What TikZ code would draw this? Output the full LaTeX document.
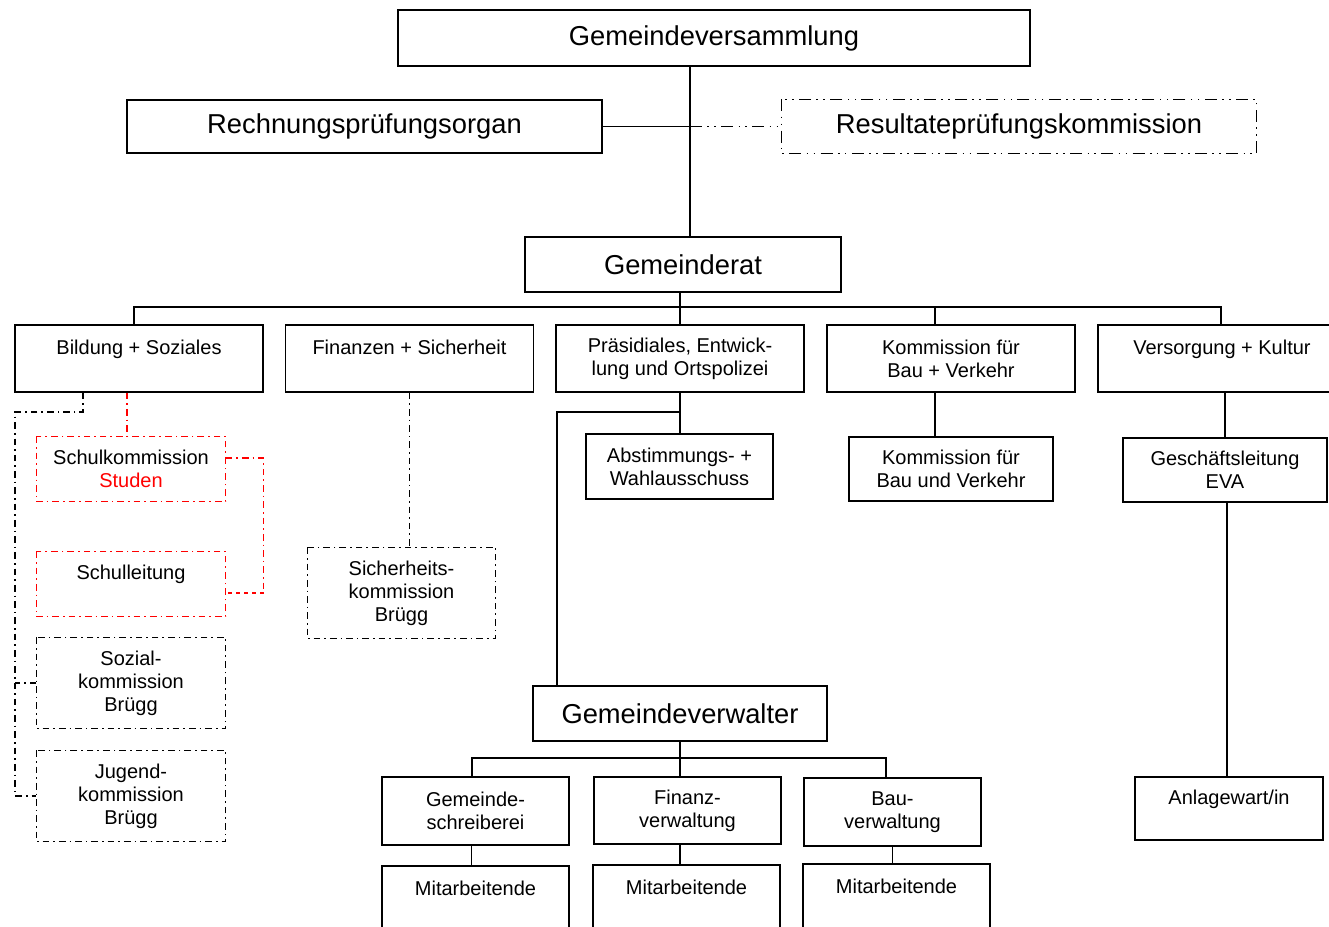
\documentclass[tikz,border=0pt]{standalone}
\usepackage{fontspec}
\setmainfont{Liberation Sans}
\usetikzlibrary{calc}

\tikzset{
    box/.style={draw, line width=1pt, inner sep=0pt, align=center, font=\fontsize{15}{17.25}\selectfont},
    bigbox/.style={box, font=\fontsize{20.5}{24}\selectfont},
    dd/.style={line width=1.1pt, dash pattern=on 5pt off 3pt on 1.2pt off 3pt},
    ddd/.style={line width=1.1pt, dash pattern=on 9pt off 4pt on 1.2pt off 4pt on 1.2pt off 4pt},
    rdd/.style={dd, red},
    conn/.style={line width=1pt}
}

\begin{document}
\begin{tikzpicture}[x=0.75pt, y=-0.75pt]

    \useasboundingbox (0,0) rectangle (1329,927);
    \clip (0,0) rectangle (1329,927);

    % oberste Ebene
    \node[bigbox, minimum width=474pt, minimum height=42pt] (gv) at (714,38) {Gemeindeversammlung};
    \node[bigbox, minimum width=356.25pt, minimum height=39.75pt] (rpo) at (364.5,126.5) {Rechnungsprüfungsorgan};
    \node[bigbox, draw=none, minimum width=355.5pt, minimum height=39.75pt] (rpk) at (1019,126.5) {Resultateprüfungskommission};
    \draw[ddd] (rpk.north west) rectangle (rpk.south east);
    \node[bigbox, minimum width=237pt, minimum height=41.25pt] (gr) at (683,264.5) {Gemeinderat};

    % Departemente
    \node[box, minimum width=186pt, minimum height=50.25pt] (bil) at (139,358.5) {Bildung + Soziales\\\mbox{}};
    \node[box, minimum width=186pt, minimum height=50.25pt] (fin) at (409.5,358.5) {Finanzen + Sicherheit\\\mbox{}};
    \node[box, minimum width=186pt, minimum height=50.25pt] (praes) at (680,358.5) {Präsidiales, Entwick-\\lung und Ortspolizei};
    \node[box, minimum width=186pt, minimum height=50.25pt] (kbv) at (951,358.5) {Kommission für\\Bau + Verkehr};
    \node[box, minimum width=186pt, minimum height=50.25pt] (vk) at (1222,358.5) {Versorgung + Kultur\\\mbox{}};

    % Kommissionen
    \node[box, draw=none, minimum width=141pt, minimum height=48pt] (skom) at (131,469) {Schulkommission\\\textcolor{red}{Studen}};
    \draw[rdd] (skom.north west) rectangle (skom.south east);
    \node[box, draw=none, minimum width=141pt, minimum height=48pt] (sl) at (131,584) {Schulleitung\\\mbox{}};
    \draw[rdd] (sl.north west) rectangle (sl.south east);
    \node[box, draw=none, minimum width=141pt, minimum height=67.5pt] (soz) at (131,683) {Sozial-\\kommission\\Brügg};
    \draw[dd] (soz.north west) rectangle (soz.south east);
    \node[box, draw=none, minimum width=141pt, minimum height=67.5pt] (jug) at (131,796) {Jugend-\\kommission\\Brügg};
    \draw[dd] (jug.north west) rectangle (jug.south east);
    \node[box, draw=none, minimum width=140.25pt, minimum height=67.5pt] (sik) at (401.5,593) {Sicherheits-\\kommission\\Brügg};
    \draw[dd] (sik.north west) rectangle (sik.south east);
    \node[box, minimum width=140.25pt, minimum height=48.75pt] (abw) at (679.5,466.5) {Abstimmungs- +\\Wahlausschuss};
    \node[box, minimum width=153pt, minimum height=48pt] (kbu) at (951,469) {Kommission für\\Bau und Verkehr};
    \node[box, minimum width=153pt, minimum height=48pt] (gl) at (1225,470) {Geschäftsleitung\\EVA};
    \node[box, minimum width=141pt, minimum height=47.25pt] (aw) at (1229,808.5) {Anlagewart/in\\\mbox{}};

    % Verwaltung
    \node[bigbox, minimum width=220.5pt, minimum height=41.25pt] (gvw) at (680,713.5) {Gemeindeverwalter};
    \node[box, minimum width=140.25pt, minimum height=51pt] (gs) at (475.5,811) {Gemeinde-\\schreiberei};
    \node[box, minimum width=140.25pt, minimum height=50.25pt] (fv) at (687.5,810.5) {Finanz-\\verwaltung};
    \node[box, minimum width=132.75pt, minimum height=51pt] (bv) at (892.5,812) {Bau-\\verwaltung};
    \node[box, minimum width=140.25pt, minimum height=51pt] (ma1) at (475.5,900) {Mitarbeitende\\\mbox{}};
    \node[box, minimum width=140.25pt, minimum height=51pt] (ma2) at (686.5,899) {Mitarbeitende\\\mbox{}};
    \node[box, minimum width=140.25pt, minimum height=51pt] (ma3) at (896.5,898) {Mitarbeitende\\\mbox{}};

    % Verbindungen oben
    \coordinate (trunk) at (690,0);
    \draw[conn] (gv.south -| trunk) -- (gr.north -| trunk);
    \draw[conn] (rpo.east) -- (rpo.east -| trunk);
    \draw[ddd] (rpo.east -| trunk) -- (rpk.west);

    \coordinate (bus) at (680,307);
    \draw[conn] (gr.south -| bus) -- (bus);
    \draw[conn] ($(bil.north)+(-5,0)$) |- (bus) -| ($(vk.north)+(-1,0)$);
    \draw[conn] (praes.north) -- (praes.north |- bus);
    \draw[conn] ($(kbv.north)+(-16,0)$) -- ($(kbv.north)+(-16,-18)$);

    % Bildung + Soziales
    \coordinate (lrail) at (15,412);
    \draw[dd] ($(bil.south)+(-56,0)$) |- (lrail) |- (jug.west);
    \draw[dd] (soz.west) -- (soz.west -| lrail);
    \draw[rdd] ($(bil.south)+(-12,0)$) -- ($(skom.north)+(-4,0)$);
    \draw[rdd] ($(skom.east)+(0,-11)$) -| ($(sl.east)+(38,9)$);
    \draw[red, line width=1.1pt, dashed] ($(sl.east)+(38,9)$) -- ($(sl.east)+(0,9)$);

    % Finanzen + Sicherheit
    \draw[dd] (fin.south) -- (fin.south |- sik.north);

    % Praesidiales
    \coordinate (pbr) at (557,412);
    \draw[conn] (praes.south) -- (praes.south |- abw.north);
    \draw[conn] (praes.south |- pbr) -- (pbr) -- (pbr |- gvw.north);

    % Bau + Verkehr, Versorgung
    \draw[conn] ($(kbv.south)+(-16,0)$) -- ($(kbu.north)+(-16,0)$);
    \draw[conn] (gl.north |- vk.south) -- (gl.north);
    \draw[conn] ($(gl.south)+(2,0)$) -- ($(aw.north)+(-2,0)$);

    % Gemeindeverwalter
    \coordinate (vbus) at (680,758);
    \draw[conn] (gvw.south) -- (gvw.south |- fv.north);
    \draw[conn] ($(gs.north)+(-3.5,0)$) |- (vbus) -| ($(bv.north)+(-6.5,0)$);
    \draw[conn] ($(gs.south)+(-4,0)$) -- ($(ma1.north)+(-4,0)$);
    \draw[conn] (gvw.south |- fv.south) -- (gvw.south |- ma2.north);
    \draw[conn] (bv.south) -- (bv.south |- ma3.north);

\end{tikzpicture}
\end{document}
